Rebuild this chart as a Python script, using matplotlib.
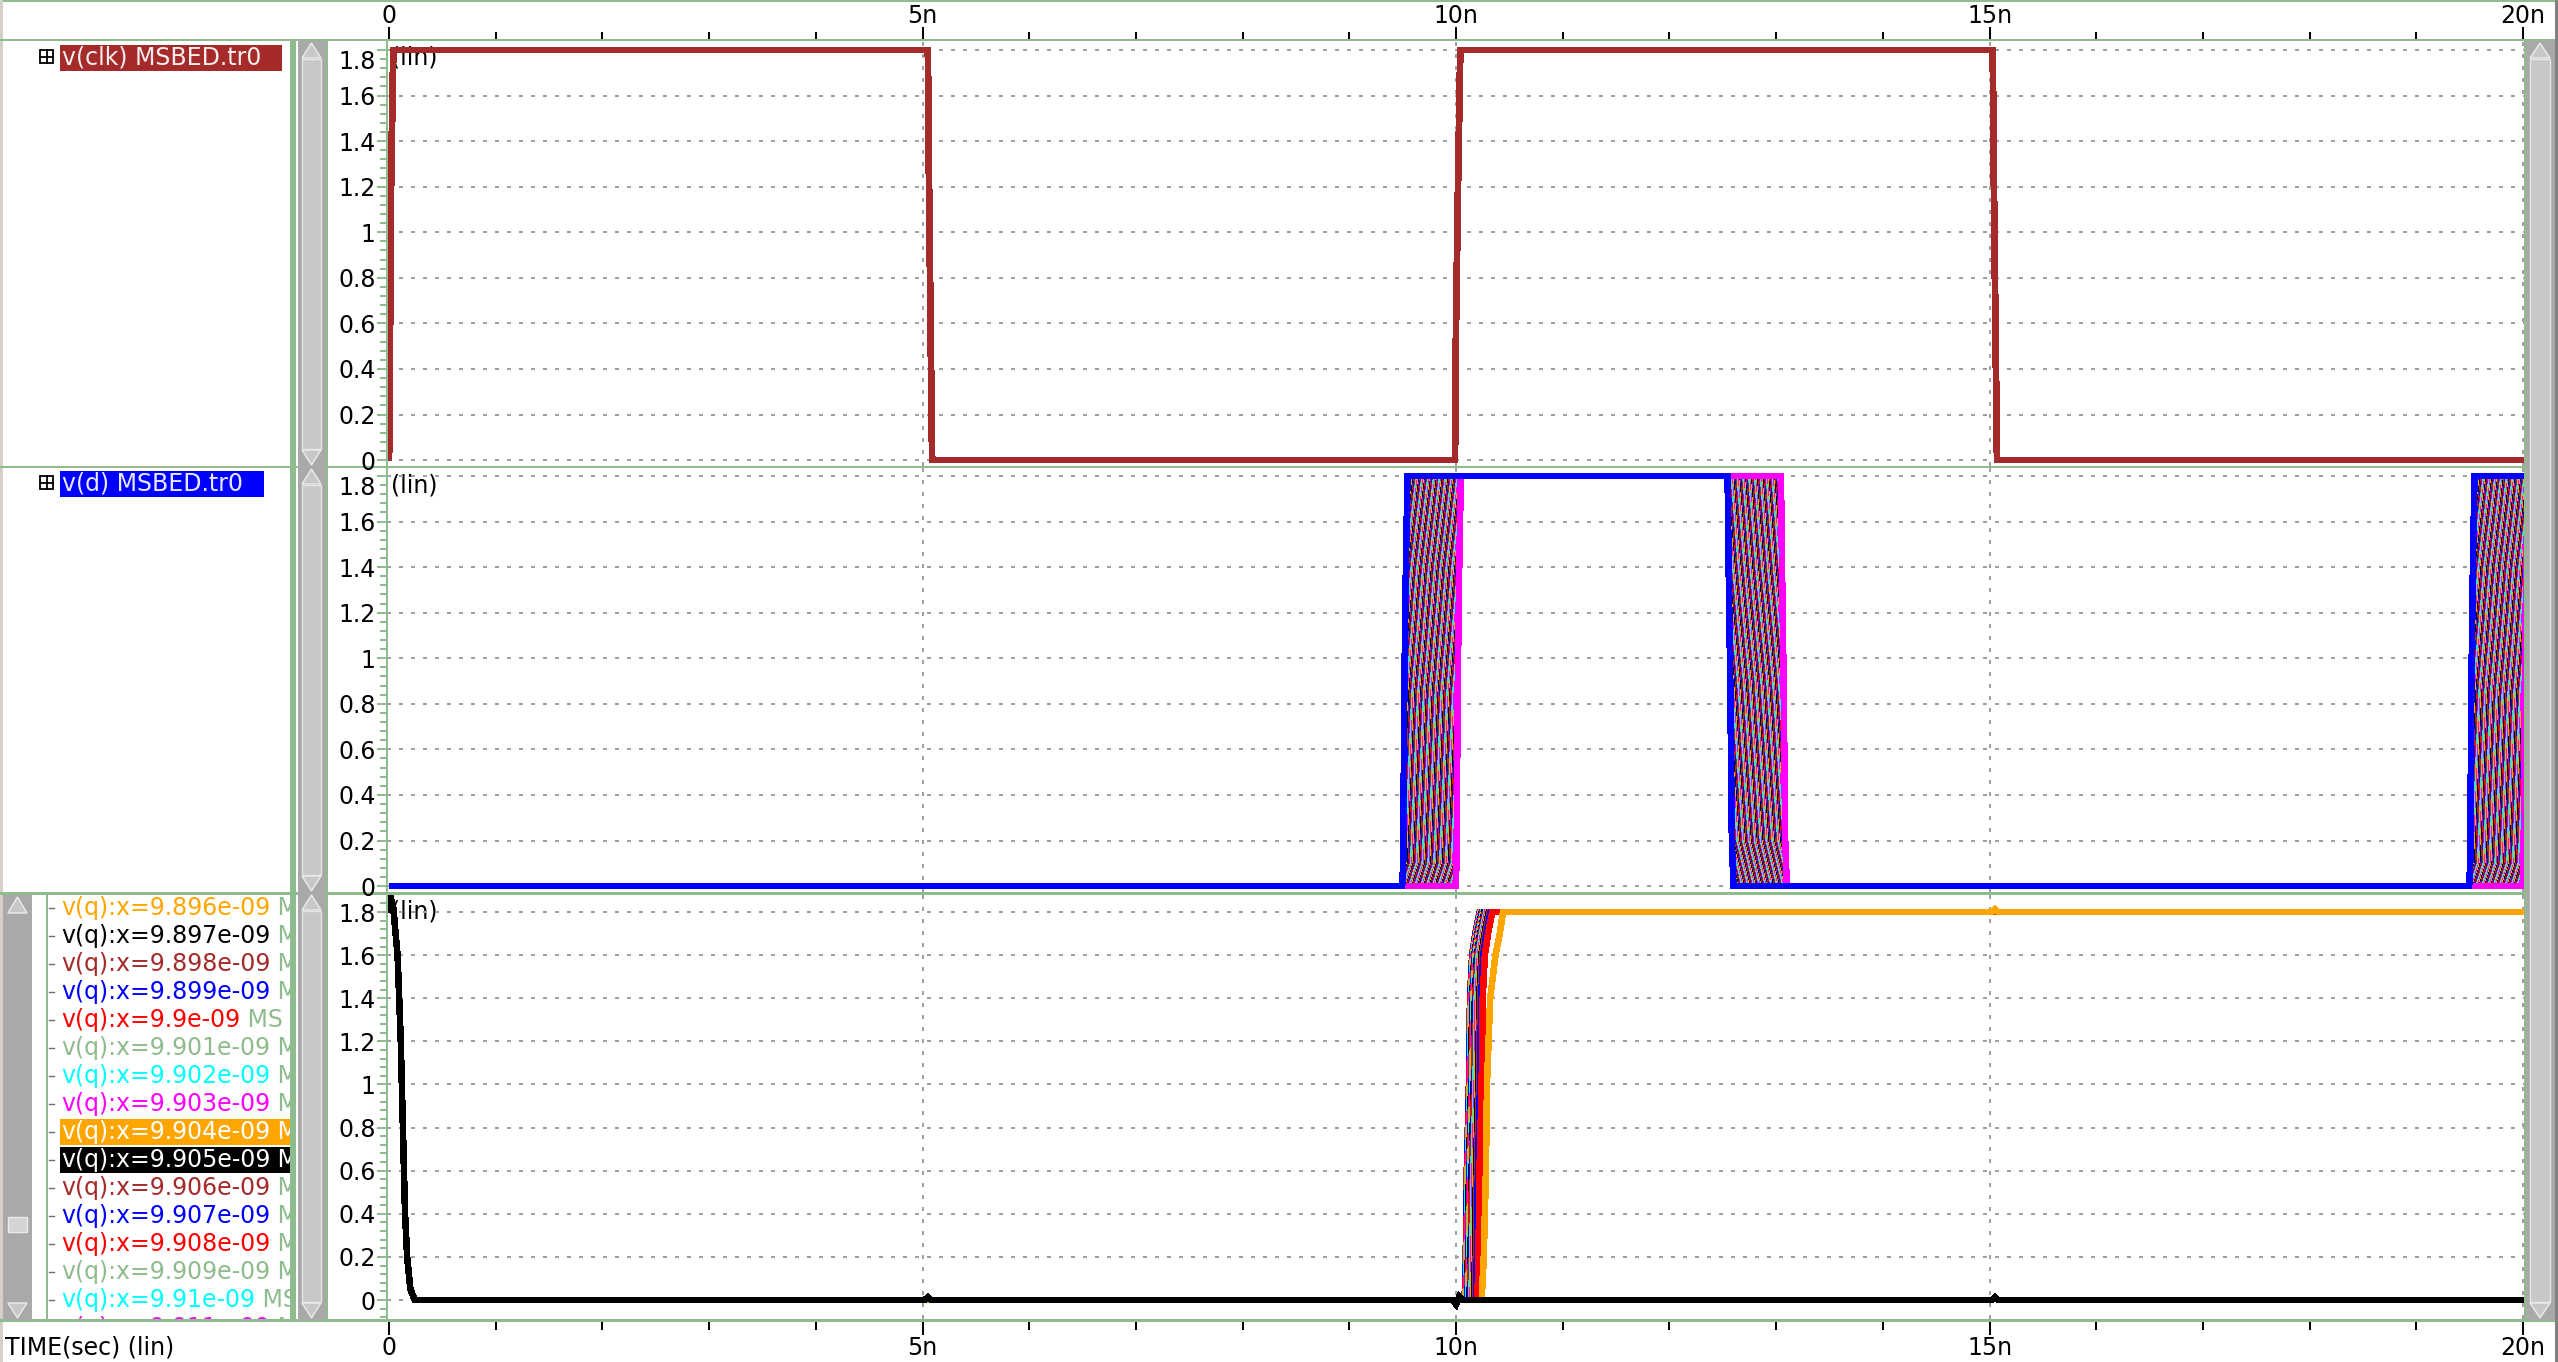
import numpy as np
import matplotlib
matplotlib.use("Agg")
import matplotlib.pyplot as plt
from matplotlib.patches import Rectangle, Polygon
from matplotlib.ticker import MultipleLocator

W, H, DPI = 2558, 1362, 100

# time in ns, voltage in V
time_ticks = [0, 5, 10, 15, 20]
time_tick_labels = ["0", "5n", "10n", "15n", "20n"]
volt_ticks = [0, 0.2, 0.4, 0.6, 0.8, 1.0, 1.2, 1.4, 1.6, 1.8]
volt_tick_labels = ["0", "0.2", "0.4", "0.6", "0.8", "1", "1.2", "1.4", "1.6", "1.8"]

# v(clk)
clk_t = [0.0, 0.01, 0.02, 0.04, 5.05, 5.06, 5.075, 5.09, 9.99, 10.0, 10.02, 10.04,
         15.03, 15.04, 15.055, 15.07, 20.0]
clk_v = [0.0, 0.6, 1.25, 1.8, 1.8, 1.25, 0.6, 0.0, 0.0, 0.6, 1.25, 1.8,
         1.8, 1.25, 0.6, 0.0, 0.0]

# v(d): one pulse per sweep value x (edge at x, fall at x+3n, next edge at x+10n)
sweep_start, sweep_stop, sweep_step = 9.500, 10.000, 0.001
d_rise_dt = [-0.005, 0.005, 0.015, 0.030, 0.045]
d_rise_v = [0.0, 0.1, 0.85, 1.4, 1.8]
d_fall_dt = [3.045, 3.055, 3.070, 3.085, 3.100]
d_fall_v = [1.8, 1.4, 0.9, 0.2, 0.0]
d_period = 10.0

# v(q)
q_init_t = [0.0, 0.02, 0.04, 0.08, 0.11, 0.13, 0.15, 0.17, 0.20, 0.24]
q_init_v = [1.80, 1.86, 1.82, 1.60, 1.20, 0.80, 0.40, 0.20, 0.05, 0.0]
q_rise_start = [10.080, 10.083, 10.086, 10.089, 10.092, 10.095, 10.098, 10.101,
                10.104, 10.107, 10.110, 10.113, 10.116, 10.119, 10.122, 10.126,
                10.130, 10.134, 10.138, 10.143, 10.148, 10.154, 10.160, 10.167,
                10.175, 10.185, 10.200]
q_edge_v = [0.0, 0.2, 0.6, 1.0, 1.4, 1.6, 1.7, 1.8]
q_fast_dt = [0.0, 0.01, 0.02, 0.04, 0.05, 0.07, 0.10, 0.14]
q_slow_dt = [0.0, 0.02, 0.04, 0.05, 0.08, 0.13, 0.17, 0.20]
q_slow_start = 10.24
q_low_glitch_t = [5.02, 5.05, 5.08, 9.97, 10.0, 10.03, 10.06, 15.02, 15.05, 15.08]
q_low_glitch_v = [0.0, 0.012, 0.0, 0.0, -0.02, 0.015, 0.0, 0.0, 0.012, 0.0]
q_high_glitch_t = [15.02, 15.05, 15.08]
q_high_glitch_v = [1.8, 1.812, 1.8]

trace_colors = ["#ffa500", "#000000", "#a52a2a", "#0000ff",
                "#ff0000", "#8fbc8f", "#00ffff", "#ff00ff"]

list_x = [9.896e-09, 9.897e-09, 9.898e-09, 9.899e-09, 9.9e-09, 9.901e-09,
          9.902e-09, 9.903e-09, 9.904e-09, 9.905e-09, 9.906e-09, 9.907e-09,
          9.908e-09, 9.909e-09, 9.91e-09, 9.911e-09]
list_selected = [9.904e-09, 9.905e-09]

GREEN = "#8fbc8f"
GRID = "#a0a0a0"
FS = 17
XLIM = (-0.019, 20.009)

fig = plt.figure(figsize=(W / DPI, H / DPI), dpi=DPI)
fig.patch.set_facecolor("white")


def box(x0, y0, x1, y1):
    return [x0 / W, 1 - y1 / H, (x1 - x0) / W, (y1 - y0) / H]


ui = fig.add_axes([0, 0, 1, 1])
ui.set_xlim(0, W)
ui.set_ylim(H, 0)
ui.axis("off")


def rect(x0, y0, x1, y1, color, z=2, ec="none", lw=0):
    ui.add_patch(Rectangle((x0, y0), x1 - x0, y1 - y0, facecolor=color,
                           edgecolor=ec, linewidth=lw, zorder=z))


def tri(pts, z=4):
    ui.add_patch(Polygon(pts, closed=True, facecolor="#c8c8c8",
                         edgecolor="#ececec", linewidth=1.0, zorder=z))


def scroll(x0, x1, y0, y1):
    rect(x0, y0, x1, y1, "#a9a9a9", z=3)
    rect(x0 + 4, y0 + 18, x1 - 5, y1 - 18, "#c8c8c8", z=4, ec="#e6e6e6", lw=1.0)
    xm = (x0 + 4 + x1 - 5) / 2
    tri([(xm, y0 + 2), (x0 + 4, y0 + 17), (x1 - 5, y0 + 17)])
    tri([(xm, y1 - 2), (x0 + 4, y1 - 17), (x1 - 5, y1 - 17)])


# frame lines
rect(0, 0, W, 2, GREEN)
rect(0, 0, 2.5, H, "#d4d0c8")
rect(0, 39, W, 41, GREEN)
rect(0, 466, 2526, 468, GREEN)
rect(0, 892, 2526, 895, GREEN)
rect(0, 1319, W, 1322, GREEN)
rect(290, 41, 296, 1319, GREEN)
rect(326, 41, 328, 1319, GREEN)
rect(2524, 41, 2526, 1319, GREEN)
rect(46, 895, 48, 1319, GREEN)
rect(2555, 0, W, H, "#808080", z=5)

# scrollbars
scroll(298, 326, 41, 467)
scroll(298, 326, 467, 893)
scroll(298, 326, 893, 1320)
scroll(2526, 2555, 41, 1320)
rect(3, 895, 32, 1320, "#a9a9a9", z=3)
tri([(17.5, 897), (8, 913), (27, 913)])
tri([(17.5, 1318), (8, 1303), (27, 1303)])
rect(8, 1217, 27, 1232, "#d3d3d3", z=4, ec="#ececec", lw=1.0)


def plus_icon(x0, y0, s=13):
    ui.add_patch(Rectangle((x0, y0), s, s, facecolor="white", edgecolor="black",
                           linewidth=1.3, zorder=4))
    ui.plot([x0, x0 + s], [y0 + s / 2, y0 + s / 2], color="black", lw=1.3, zorder=5)
    ui.plot([x0 + s / 2, x0 + s / 2], [y0, y0 + s], color="black", lw=1.3, zorder=5)


plus_icon(40, 50)
rect(60, 45, 282, 71, "#a52a2a", z=3)
ui.text(62, 58, "v(clk) MSBED.tr0", color="#f6eded", fontsize=FS, va="center", zorder=5)
plus_icon(40, 476)
rect(60, 471, 264, 497, "#0000ff", z=3)
ui.text(62, 484, "v(d) MSBED.tr0", color="#e8e8ff", fontsize=FS, va="center", zorder=5)
ui.text(5, 1347, "TIME(sec) (lin)", color="black", fontsize=FS, va="center", zorder=5)

# signal list of the v(q) panel (names run on past the clipped column edge)
la = fig.add_axes(box(48, 895, 290, 1319))
la.set_xlim(48, 290)
la.set_ylim(1319, 895)
la.axis("off")
la.patch.set_alpha(0)
for r, x in enumerate(list_x):
    y = 908 + 28 * r
    col = trace_colors[r % 8]
    sel = x in list_selected
    la.plot([49, 54], [y, y], color="#707070", lw=1.0)
    if sel:
        la.add_patch(Rectangle((60, y - 13), 240, 26, facecolor=col,
                               edgecolor="none", clip_on=True))
    t1 = la.text(61, y, f"v(q):x={x:g}", color="white" if sel else col,
                 fontsize=FS, va="center", clip_on=True)
    la.annotate(" MS", xy=(1, 0), xycoords=t1, va="bottom",
                color="white" if sel else GREEN, fontsize=FS, clip_on=True)


# waveform panels
def panel(y0, y1, ylim, clamp_top):
    ax = fig.add_axes(box(387, y0, 2524, y1))
    ax.set_xlim(*XLIM)
    ax.set_ylim(*ylim)
    ax.set_yticks(volt_ticks, volt_tick_labels)
    ax.yaxis.set_minor_locator(MultipleLocator(0.04))
    ax.set_xticks([5, 10, 15, 20])
    ax.tick_params(axis="x", length=0, labelbottom=False)
    ax.tick_params(axis="y", which="major", colors=GREEN, labelcolor="black",
                   labelsize=FS, length=7.2, width=1.44, pad=1)
    ax.tick_params(axis="y", which="minor", colors=GREEN, length=5, width=1.44)
    if clamp_top:
        # top label is kept inside the panel
        ax.get_yticklabels()[-1].set_verticalalignment("top")
    ax.grid(True, color=GRID, lw=1.44, linestyle=(0, (2, 4)))
    for name, sp in ax.spines.items():
        sp.set_visible(name == "left")
    ax.spines["left"].set_color(GREEN)
    ax.spines["left"].set_linewidth(1.44)
    ax.annotate("(lin)", xy=(0, 1), xycoords="axes fraction", xytext=(4, -17),
                textcoords="offset pixels", fontsize=FS, va="center", zorder=1.5)
    return ax


ax1 = panel(41, 466, (-0.026, 1.8395), True)
ax2 = panel(468, 892, (-0.026, 1.835), True)
ax3 = panel(895, 1319, (-0.088, 1.879), False)

LW = 4.0
kw = dict(antialiased=False, solid_joinstyle="miter", solid_capstyle="butt")

ax1.plot(clk_t, clk_v, color="#a52a2a", lw=4.2, **kw)

sweep = np.round(np.arange(sweep_start, sweep_stop + sweep_step / 2, sweep_step), 3)
for i in list(range(1, len(sweep))) + [0]:
    x = sweep[i]
    t = ([0.0] + [x + dt for dt in d_rise_dt] + [x + dt for dt in d_fall_dt]
         + [x + d_period + dt for dt in d_rise_dt] + [x + d_period + 1.0])
    v = [0.0] + d_rise_v + d_fall_v + d_rise_v + [1.8]
    ax2.plot(t, v, color=trace_colors[(i + 3) % 8], lw=LW, **kw)

for k, ts in enumerate(q_rise_start):
    t = q_init_t + [ts + dt for dt in q_fast_dt] + [20.5]
    v = q_init_v + q_edge_v + [1.8]
    ax3.plot(t, v, color=trace_colors[(k + 2) % 8], lw=LW, **kw)
ax3.plot(q_init_t + [q_slow_start + dt for dt in q_slow_dt] + q_high_glitch_t + [20.5],
         q_init_v + q_edge_v + q_high_glitch_v + [1.8], color="#ffa500", lw=LW, **kw)
ax3.plot(q_init_t + q_low_glitch_t + [20.5], q_init_v + q_low_glitch_v + [0.0],
         color="#000000", lw=LW, **kw)


# time rulers
def ruler(y0, y1, top_side, label_y):
    ax = fig.add_axes(box(387, y0, 2524, y1))
    ax.set_xlim(*XLIM)
    ax.set_ylim(0, 1)
    ax.patch.set_alpha(0)
    for sp in ax.spines.values():
        sp.set_visible(False)
    ax.set_yticks([])
    ax.set_xticks(time_ticks)
    ax.xaxis.set_minor_locator(MultipleLocator(1))
    ax.tick_params(axis="x", which="both", direction="in", bottom=not top_side,
                   top=top_side, labelbottom=False, labeltop=False,
                   color="black", width=1.44)
    ax.tick_params(axis="x", which="major", length=9)
    ax.tick_params(axis="x", which="minor", length=5.4)
    for t, lab in zip(time_ticks, time_tick_labels):
        ax.text(t, label_y, lab, transform=ax.get_xaxis_transform(),
                ha="center", va="center", fontsize=FS, clip_on=False)
    return ax


ruler(2, 39, False, 0.62)
ruler(1322, 1360, True, 0.32)

fig.savefig("out.png", dpi=DPI)
